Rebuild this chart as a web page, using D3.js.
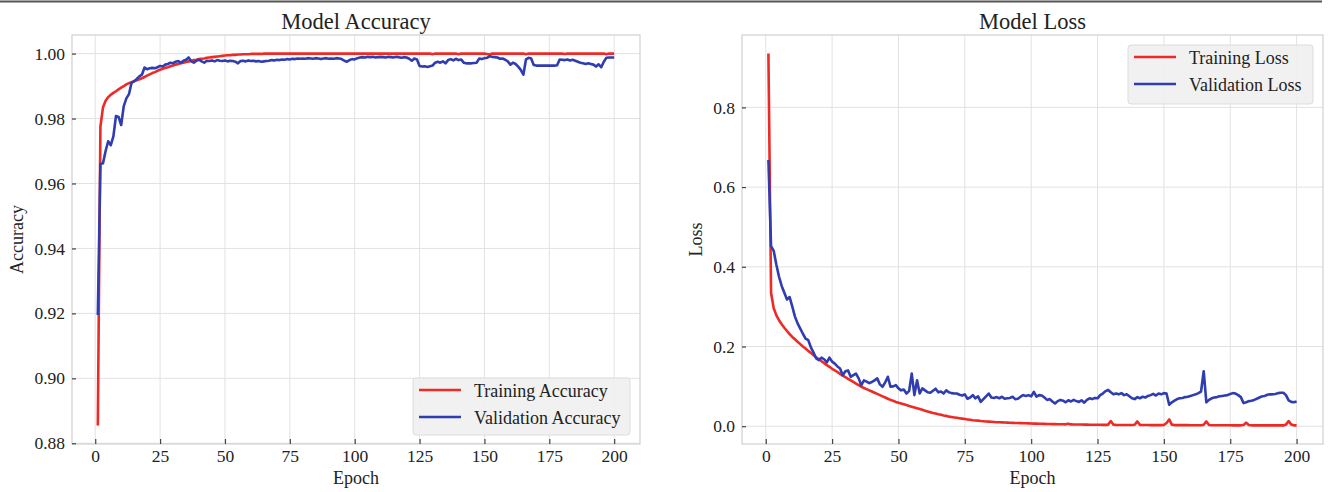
<!DOCTYPE html>
<html>
<head>
<meta charset="utf-8">
<script src="https://cdn.jsdelivr.net/npm/d3@7"></script>
<style>
  body { margin: 0; background: #fff; }
  svg { display: block; font-family: "Liberation Serif", "Times New Roman", serif; }
</style>
</head>
<body>
<svg id="chart" width="1331" height="492"></svg>
<script>
// epochs 1..200
const epochs = d3.range(1, 201);
const xTicks = [0, 25, 50, 75, 100, 125, 150, 175, 200];
const accTicks = [0.88, 0.90, 0.92, 0.94, 0.96, 0.98, 1.00];
const lossTicks = [0.0, 0.2, 0.4, 0.6, 0.8];

const trainAcc = [
  0.8855, 0.9775, 0.9835, 0.9855, 0.9866, 0.9873, 0.9879, 0.9884, 0.9890, 0.9895,
  0.9900, 0.9905, 0.9909, 0.9912, 0.9915, 0.9918, 0.9921, 0.9924, 0.9928, 0.9932,
  0.9936, 0.9940, 0.9943, 0.9947, 0.9950, 0.9953, 0.9956, 0.9958, 0.9961, 0.9963,
  0.9966, 0.9968, 0.9970, 0.9972, 0.9974, 0.9976, 0.9978, 0.9980, 0.9981, 0.9983,
  0.9984, 0.9985, 0.9987, 0.9988, 0.9989, 0.9990, 0.9991, 0.9992, 0.9993, 0.9994,
  0.9995, 0.9995, 0.9996, 0.9996, 0.9997, 0.9997, 0.9998, 0.9998, 0.9998, 0.9999,
  0.9999, 0.9999, 0.9999, 0.9999, 1.0000, 1.0000, 1.0000, 1.0000, 1.0000, 1.0000,
  1.0000, 1.0000, 1.0000, 1.0000, 1.0000, 1.0000, 1.0000, 1.0000, 1.0000, 1.0000,
  1.0000, 1.0000, 1.0000, 1.0000, 1.0000, 1.0000, 1.0000, 1.0000, 1.0000, 1.0000,
  1.0000, 1.0000, 1.0000, 1.0000, 1.0000, 1.0000, 1.0000, 1.0000, 1.0000, 1.0000,
  1.0000, 1.0000, 1.0000, 1.0000, 1.0000, 1.0000, 1.0000, 1.0000, 1.0000, 1.0000,
  1.0000, 1.0000, 1.0000, 1.0000, 1.0000, 1.0000, 1.0000, 1.0000, 1.0000, 1.0000,
  1.0000, 1.0000, 1.0000, 1.0000, 1.0000, 1.0000, 1.0000, 1.0000, 1.0000, 0.9998,
  1.0000, 1.0000, 1.0000, 1.0000, 1.0000, 1.0000, 1.0000, 1.0000, 1.0000, 0.9998,
  1.0000, 1.0000, 1.0000, 1.0000, 1.0000, 1.0000, 1.0000, 1.0000, 1.0000, 1.0000,
  0.9999, 0.9997, 1.0000, 1.0000, 1.0000, 1.0000, 1.0000, 1.0000, 1.0000, 1.0000,
  1.0000, 1.0000, 1.0000, 1.0000, 1.0000, 0.9998, 1.0000, 1.0000, 1.0000, 1.0000,
  1.0000, 1.0000, 1.0000, 1.0000, 1.0000, 1.0000, 1.0000, 1.0000, 1.0000, 1.0000,
  0.9999, 1.0000, 1.0000, 1.0000, 1.0000, 1.0000, 1.0000, 1.0000, 1.0000, 1.0000,
  1.0000, 1.0000, 1.0000, 1.0000, 1.0000, 1.0000, 0.9998, 1.0000, 1.0000, 1.0000
];

const valAcc = [
  0.9195, 0.9660, 0.9662, 0.9700, 0.9730, 0.9718, 0.9745, 0.9808, 0.9805, 0.9780,
  0.9838, 0.9862, 0.9875, 0.9910, 0.9915, 0.9922, 0.9930, 0.9935, 0.9957, 0.9952,
  0.9955, 0.9956, 0.9955, 0.9958, 0.9962, 0.9960, 0.9966, 0.9968, 0.9972, 0.9970,
  0.9975, 0.9977, 0.9972, 0.9978, 0.9981, 0.9988, 0.9976, 0.9972, 0.9978, 0.9981,
  0.9976, 0.9972, 0.9978, 0.9977, 0.9979, 0.9976, 0.9980, 0.9978, 0.9977, 0.9979,
  0.9976, 0.9978, 0.9977, 0.9975, 0.9970, 0.9977, 0.9978, 0.9976, 0.9979, 0.9977,
  0.9978, 0.9976, 0.9977, 0.9975, 0.9976, 0.9977, 0.9978, 0.9980, 0.9979, 0.9981,
  0.9980, 0.9982, 0.9981, 0.9983, 0.9982, 0.9984, 0.9983, 0.9985, 0.9984, 0.9985,
  0.9984, 0.9986, 0.9985, 0.9984, 0.9986, 0.9985, 0.9983, 0.9985, 0.9986, 0.9984,
  0.9985, 0.9984, 0.9986, 0.9985, 0.9983, 0.9978, 0.9975, 0.9980, 0.9983, 0.9982,
  0.9986, 0.9988, 0.9989, 0.9988, 0.9990, 0.9989, 0.9990, 0.9988, 0.9989, 0.9990,
  0.9989, 0.9988, 0.9990, 0.9989, 0.9988, 0.9990, 0.9989, 0.9987, 0.9989, 0.9988,
  0.9984, 0.9978, 0.9985, 0.9982, 0.9962, 0.9960, 0.9961, 0.9959, 0.9961, 0.9963,
  0.9972, 0.9975, 0.9972, 0.9976, 0.9970, 0.9980, 0.9983, 0.9979, 0.9984, 0.9980,
  0.9982, 0.9972, 0.9970, 0.9970, 0.9970, 0.9971, 0.9972, 0.9985, 0.9983, 0.9986,
  0.9987, 0.9992, 0.9990, 0.9989, 0.9988, 0.9984, 0.9985, 0.9981, 0.9976, 0.9966,
  0.9972, 0.9968, 0.9960, 0.9950, 0.9935, 0.9982, 0.9987, 0.9985, 0.9965, 0.9963,
  0.9963, 0.9963, 0.9963, 0.9963, 0.9963, 0.9963, 0.9963, 0.9964, 0.9982, 0.9981,
  0.9980, 0.9982, 0.9979, 0.9981, 0.9978, 0.9975, 0.9972, 0.9970, 0.9968, 0.9970,
  0.9968, 0.9966, 0.9960, 0.9967, 0.9958, 0.9975, 0.9987, 0.9988, 0.9988, 0.9988
];

const trainLoss = [
  0.935, 0.335, 0.296, 0.278, 0.266, 0.256, 0.247, 0.239, 0.231, 0.224,
  0.218, 0.212, 0.206, 0.200, 0.195, 0.189, 0.184, 0.178, 0.173, 0.168,
  0.163, 0.158, 0.153, 0.149, 0.144, 0.140, 0.136, 0.131, 0.127, 0.123,
  0.119, 0.115, 0.111, 0.107, 0.103, 0.099, 0.096, 0.093, 0.090, 0.087,
  0.084, 0.081, 0.078, 0.075, 0.072, 0.069, 0.066, 0.064, 0.061, 0.059,
  0.057, 0.055, 0.053, 0.051, 0.049, 0.047, 0.045, 0.043, 0.041, 0.039,
  0.037, 0.035, 0.033, 0.032, 0.030, 0.029, 0.027, 0.026, 0.024, 0.023,
  0.022, 0.021, 0.020, 0.019, 0.018, 0.017, 0.016, 0.015, 0.0145, 0.014,
  0.013, 0.0125, 0.012, 0.0115, 0.011, 0.0105, 0.010, 0.0098, 0.0095, 0.0092,
  0.0090, 0.0087, 0.0084, 0.0082, 0.0080, 0.0078, 0.0075, 0.0073, 0.0070, 0.0068,
  0.0066, 0.0064, 0.0062, 0.0060, 0.0058, 0.0056, 0.0055, 0.0053, 0.0052, 0.0050,
  0.0049, 0.0048, 0.0047, 0.0062, 0.0045, 0.0044, 0.0043, 0.0042, 0.0041, 0.0040,
  0.0039, 0.0038, 0.0037, 0.0036, 0.0036, 0.0035, 0.0034, 0.0034, 0.0040, 0.0130,
  0.0036, 0.0033, 0.0032, 0.0032, 0.0031, 0.0031, 0.0030, 0.0030, 0.0035, 0.0120,
  0.0034, 0.0030, 0.0029, 0.0029, 0.0028, 0.0028, 0.0028, 0.0027, 0.0027, 0.0030,
  0.0080, 0.0170, 0.0040, 0.0028, 0.0027, 0.0027, 0.0026, 0.0026, 0.0026, 0.0025,
  0.0025, 0.0025, 0.0025, 0.0024, 0.0035, 0.0120, 0.0030, 0.0025, 0.0024, 0.0024,
  0.0024, 0.0023, 0.0023, 0.0023, 0.0023, 0.0022, 0.0022, 0.0022, 0.0022, 0.0030,
  0.0090, 0.0030, 0.0022, 0.0021, 0.0021, 0.0021, 0.0021, 0.0021, 0.0020, 0.0020,
  0.0020, 0.0020, 0.0020, 0.0020, 0.0020, 0.0040, 0.0130, 0.0040, 0.0021, 0.0020
];

const valLoss = [
  0.668, 0.452, 0.440, 0.405, 0.375, 0.352, 0.335, 0.318, 0.324, 0.300,
  0.275, 0.258, 0.245, 0.232, 0.220, 0.216, 0.198, 0.185, 0.170, 0.166,
  0.172, 0.168, 0.160, 0.172, 0.162, 0.157, 0.150, 0.145, 0.128, 0.138,
  0.140, 0.124, 0.128, 0.132, 0.120, 0.103, 0.115, 0.112, 0.108, 0.111,
  0.115, 0.120, 0.105, 0.099, 0.110, 0.124, 0.099, 0.100, 0.103, 0.095,
  0.090, 0.092, 0.082, 0.088, 0.132, 0.078, 0.115, 0.082, 0.095, 0.090,
  0.085, 0.084, 0.089, 0.094, 0.085, 0.087, 0.082, 0.090, 0.085, 0.083,
  0.082, 0.082, 0.079, 0.077, 0.080, 0.069, 0.072, 0.078, 0.070, 0.075,
  0.061, 0.068, 0.075, 0.082, 0.072, 0.071, 0.073, 0.070, 0.074, 0.069,
  0.070, 0.071, 0.074, 0.068, 0.069, 0.074, 0.078, 0.076, 0.078, 0.075,
  0.086, 0.074, 0.078, 0.077, 0.072, 0.066, 0.068, 0.062, 0.057, 0.063,
  0.066, 0.064, 0.060, 0.065, 0.062, 0.066, 0.063, 0.061, 0.065, 0.059,
  0.066, 0.070, 0.068, 0.071, 0.070, 0.078, 0.082, 0.088, 0.091, 0.085,
  0.080, 0.082, 0.080, 0.083, 0.078, 0.080, 0.075, 0.070, 0.068, 0.073,
  0.070, 0.074, 0.072, 0.076, 0.078, 0.081, 0.077, 0.082, 0.080, 0.083,
  0.082, 0.054, 0.060, 0.064, 0.068, 0.070, 0.071, 0.073, 0.074, 0.076,
  0.078, 0.080, 0.083, 0.087, 0.138, 0.060, 0.066, 0.070, 0.072, 0.073,
  0.075, 0.076, 0.077, 0.078, 0.081, 0.083, 0.082, 0.078, 0.073, 0.058,
  0.060, 0.063, 0.064, 0.066, 0.069, 0.072, 0.075, 0.076, 0.079, 0.080,
  0.080, 0.081, 0.083, 0.084, 0.084, 0.078, 0.065, 0.061, 0.060, 0.062
];

const RED = "#ee2a26";
const BLUE = "#2f3db0";

class LineChart {
  constructor(svg, opts) {
    this.svg = svg;
    this.opts = opts;
  }

  // matplotlib style 5% padding around data range
  padded(values) {
    const [lo, hi] = d3.extent(values);
    const pad = (hi - lo) * 0.05;
    return [lo - pad, hi + pad];
  }

  draw() {
    const o = this.opts;
    const g = this.svg.append("g");

    this.xScale = d3.scaleLinear()
      .domain(this.padded(epochs))
      .range([o.left, o.right]);
    this.yScale = d3.scaleLinear()
      .domain(this.padded(o.series.flatMap((s) => s.values)))
      .range([o.bottom, o.top]);

    // grid
    g.append("g")
      .selectAll("line")
      .data(xTicks)
      .join("line")
      .attr("x1", (d) => this.xScale(d))
      .attr("x2", (d) => this.xScale(d))
      .attr("y1", o.top)
      .attr("y2", o.bottom)
      .attr("stroke", "#e2e2e2")
      .attr("stroke-width", 1);
    g.append("g")
      .selectAll("line")
      .data(o.yTicks)
      .join("line")
      .attr("x1", o.left)
      .attr("x2", o.right)
      .attr("y1", (d) => this.yScale(d))
      .attr("y2", (d) => this.yScale(d))
      .attr("stroke", "#e2e2e2")
      .attr("stroke-width", 1);

    // spines
    g.append("rect")
      .attr("x", o.left)
      .attr("y", o.top)
      .attr("width", o.right - o.left)
      .attr("height", o.bottom - o.top)
      .attr("fill", "none")
      .attr("stroke", "#d0d0d0")
      .attr("stroke-width", 1.2);

    // lines
    const line = d3.line()
      .x((d, i) => this.xScale(epochs[i]))
      .y((d) => this.yScale(d));
    o.series.forEach((s) => {
      g.append("path")
        .datum(s.values)
        .attr("d", line)
        .attr("fill", "none")
        .attr("stroke", s.color)
        .attr("stroke-width", 2.6)
        .attr("stroke-linejoin", "round");
    });

    // axes
    const xAxis = g.append("g")
      .attr("transform", `translate(0, ${o.bottom})`)
      .call(d3.axisBottom(this.xScale).tickValues(xTicks).tickSize(-5).tickPadding(6));
    const yAxis = g.append("g")
      .attr("transform", `translate(${o.left}, 0)`)
      .call(d3.axisLeft(this.yScale).tickValues(o.yTicks).tickFormat(d3.format(o.yFormat)).tickSize(-4).tickPadding(7));
    [xAxis, yAxis].forEach((ax) => {
      ax.select(".domain").remove();
      ax.attr("font-family", null).attr("font-size", 17.5);
      ax.selectAll(".tick line").attr("stroke", "#444").attr("stroke-width", 1.2);
      ax.selectAll(".tick text").attr("fill", "#222");
    });

    // titles
    const cx = (o.left + o.right) / 2;
    const cy = (o.top + o.bottom) / 2;
    g.append("text")
      .attr("x", cx)
      .attr("y", 29)
      .attr("text-anchor", "middle")
      .attr("font-size", 22.5)
      .attr("fill", "#222")
      .text(o.title);
    g.append("text")
      .attr("x", cx)
      .attr("y", 484)
      .attr("text-anchor", "middle")
      .attr("font-size", 18)
      .attr("fill", "#222")
      .text("Epoch");
    g.append("text")
      .attr("transform", `translate(${o.ylabelX}, ${cy}) rotate(-90)`)
      .attr("text-anchor", "middle")
      .attr("font-size", 18)
      .attr("fill", "#222")
      .text(o.ylabel);

    // legend
    const lg = o.legend;
    g.append("rect")
      .attr("x", lg.x)
      .attr("y", lg.y)
      .attr("width", lg.w)
      .attr("height", lg.h)
      .attr("rx", 3)
      .attr("fill", "#f0f0f0")
      .attr("fill-opacity", 0.9)
      .attr("stroke", "#dddddd");
    o.series.forEach((s, i) => {
      const y = lg.y + 12 + i * 27;
      g.append("line")
        .attr("x1", lg.x + 6)
        .attr("x2", lg.x + 48)
        .attr("y1", y)
        .attr("y2", y)
        .attr("stroke", s.color)
        .attr("stroke-width", 2.6);
      g.append("text")
        .attr("x", lg.x + 61)
        .attr("y", y + 6.5)
        .attr("font-size", 18)
        .attr("fill", "#222")
        .text(s.name);
    });
  }
}

const svg = d3.select("#chart");

svg.append("rect")
  .attr("x", 0)
  .attr("y", 0.5)
  .attr("width", 1322)
  .attr("height", 2)
  .attr("fill", "#555");

new LineChart(svg, {
  left: 72, right: 640, top: 35, bottom: 444,
  title: "Model Accuracy",
  ylabel: "Accuracy",
  ylabelX: 23,
  yTicks: accTicks,
  yFormat: ".2f",
  series: [
    { name: "Training Accuracy", values: trainAcc, color: RED },
    { name: "Validation Accuracy", values: valAcc, color: BLUE },
  ],
  legend: { x: 413, y: 378, w: 217, h: 57 },
}).draw();

new LineChart(svg, {
  left: 742, right: 1323, top: 35, bottom: 444,
  title: "Model Loss",
  ylabel: "Loss",
  ylabelX: 702,
  yTicks: lossTicks,
  yFormat: ".1f",
  series: [
    { name: "Training Loss", values: trainLoss, color: RED },
    { name: "Validation Loss", values: valLoss, color: BLUE },
  ],
  legend: { x: 1128, y: 45, w: 185, h: 59 },
}).draw();
</script>
</body>
</html>
